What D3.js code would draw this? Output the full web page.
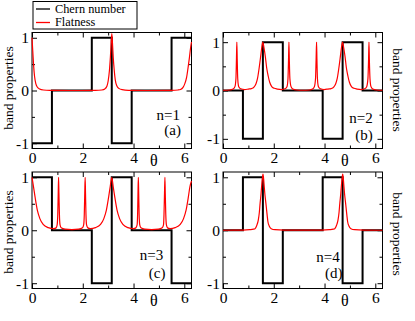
<!DOCTYPE html>
<html>
<head>
<meta charset="utf-8">
<script src="https://cdn.jsdelivr.net/npm/d3@7"></script>
<style>
body { margin: 0; background: #fff; }
svg text { font-family: "Liberation Serif", "Times New Roman", serif; }
</style>
</head>
<body>
<div id="chart-area"></div>
<script>
// theta break points (multiples of pi/4) where the Chern number jumps
var thetaEdges = [0, 0.785, 1.571, 2.356, 3.142, 3.927, 4.712, 5.498, 6.283];

// Chern number on each of the 8 intervals
var chernA = [-1, 0, 0, 1, -1, 0, 0, 1];
var chernB = [0, -1, 1, 0, 0, -1, 1, 0];
var chernC = [1, 0, 0, -1, 1, 0, 0, -1];
var chernD = [0, 1, -1, 0, 0, 1, -1, 0];

// flatness curves, [theta, value]
var flatA = [[0,1.0],[0.03,0.75],[0.06,0.5],[0.1,0.27],[0.15,0.13],[0.2,0.07],[0.3,0.03],[0.45,0.01],[0.7,0.002],[1.5,0],
  [2.5,0.002],[2.75,0.01],[2.87,0.03],[2.95,0.08],[3.0,0.18],[3.05,0.38],[3.09,0.65],[3.12,0.9],[3.145,1.08],[3.17,0.9],
  [3.2,0.63],[3.24,0.38],[3.28,0.2],[3.34,0.09],[3.42,0.04],[3.55,0.015],[3.8,0.003],[4.5,0],[5.5,0.003],[5.75,0.01],
  [5.85,0.02],[5.95,0.06],[6.02,0.13],[6.09,0.25],[6.15,0.44],[6.2,0.62],[6.25,0.82],[6.283,0.92]];

var flatB = [[0,0.005],[0.25,0.01],[0.4,0.03],[0.47,0.08],[0.51,0.25],[0.53,0.65],[0.545,1.0],[0.56,0.65],[0.58,0.25],[0.62,0.08],
  [0.7,0.035],[0.85,0.02],[1.0,0.03],[1.12,0.04],[1.22,0.07],[1.3,0.14],[1.36,0.25],[1.42,0.45],[1.48,0.69],[1.53,0.9],
  [1.571,1.0],[1.61,0.9],[1.67,0.69],[1.72,0.47],[1.78,0.3],[1.84,0.17],[1.92,0.08],[2.02,0.045],[2.14,0.03],[2.3,0.02],
  [2.44,0.035],[2.52,0.08],[2.56,0.25],[2.582,0.65],[2.597,1.0],[2.612,0.65],[2.635,0.25],[2.68,0.08],[2.75,0.03],[2.9,0.01],
  [3.14,0.005],[3.4,0.01],[3.53,0.03],[3.6,0.08],[3.645,0.25],[3.668,0.65],[3.686,1.0],[3.7,0.65],[3.72,0.25],[3.76,0.08],
  [3.84,0.035],[3.98,0.02],[4.14,0.03],[4.26,0.04],[4.36,0.07],[4.44,0.14],[4.5,0.25],[4.56,0.45],[4.62,0.69],[4.67,0.9],
  [4.712,1.0],[4.75,0.9],[4.81,0.69],[4.86,0.47],[4.92,0.3],[4.98,0.17],[5.06,0.08],[5.16,0.045],[5.28,0.03],[5.44,0.02],
  [5.58,0.035],[5.66,0.08],[5.71,0.25],[5.735,0.65],[5.75,1.0],[5.765,0.65],[5.79,0.25],[5.83,0.08],[5.9,0.03],[6.05,0.01],
  [6.283,0.005]];

var flatC = [[0,1.0],[0.06,0.82],[0.12,0.63],[0.21,0.38],[0.31,0.22],[0.44,0.11],[0.64,0.05],[0.85,0.03],[0.95,0.045],[0.99,0.1],
  [1.015,0.3],[1.033,0.7],[1.047,1.0],[1.061,0.7],[1.08,0.3],[1.105,0.1],[1.15,0.045],[1.3,0.02],[1.571,0.012],[1.84,0.02],
  [1.99,0.045],[2.035,0.1],[2.06,0.3],[2.078,0.7],[2.094,1.0],[2.108,0.7],[2.126,0.3],[2.15,0.1],[2.2,0.045],[2.3,0.03],
  [2.5,0.05],[2.7,0.11],[2.83,0.22],[2.93,0.38],[3.02,0.63],[3.08,0.82],[3.142,1.0],[3.2,0.82],[3.26,0.63],[3.35,0.38],
  [3.45,0.22],[3.58,0.11],[3.78,0.05],[3.99,0.03],[4.09,0.045],[4.14,0.1],[4.16,0.3],[4.175,0.7],[4.189,1.0],[4.203,0.7],
  [4.22,0.3],[4.245,0.1],[4.29,0.045],[4.44,0.02],[4.712,0.012],[4.98,0.02],[5.13,0.045],[5.18,0.1],[5.2,0.3],[5.22,0.7],
  [5.236,1.0],[5.25,0.7],[5.27,0.3],[5.295,0.1],[5.34,0.045],[5.44,0.03],[5.64,0.05],[5.84,0.11],[5.97,0.22],[6.07,0.38],
  [6.16,0.63],[6.22,0.82],[6.283,0.93]];

var flatD = [[0,0],[0.8,0.002],[1.05,0.01],[1.2,0.02],[1.26,0.03],[1.33,0.09],[1.39,0.19],[1.43,0.33],[1.46,0.5],[1.5,0.7],
  [1.52,0.82],[1.55,0.97],[1.575,1.06],[1.6,0.97],[1.625,0.82],[1.65,0.68],[1.68,0.55],[1.71,0.42],[1.74,0.28],[1.77,0.16],
  [1.82,0.08],[1.9,0.03],[2.05,0.01],[2.4,0.002],[3.9,0.002],[4.19,0.01],[4.34,0.02],[4.4,0.03],[4.47,0.09],[4.53,0.19],
  [4.57,0.33],[4.6,0.5],[4.64,0.7],[4.66,0.82],[4.69,0.97],[4.715,1.06],[4.74,0.97],[4.765,0.82],[4.79,0.68],[4.82,0.55],
  [4.85,0.42],[4.88,0.28],[4.91,0.16],[4.96,0.08],[5.04,0.03],[5.19,0.01],[5.54,0.002],[6.283,0]];

// tick values
var xTicks = [0, 2, 4, 6];
var xMinor = [1, 3, 5];
var yTicks = [-1, 0, 1];
var yMinor = [-0.5, 0.5];

var seriesNames = ["Chern number", "Flatness"];

// panel layout (pixels)
var panels = [
  {chern: chernA, flat: flatA, n: "n=1", tag: "(a)", left: 32, right: 191.5, top: 32.5, bottom: 148.5, ymax: 1.1,
   nPos: [5.83, -0.55], tagPos: [5.87, -0.85], labelSide: "left", labelY: 88},
  {chern: chernB, flat: flatB, n: "n=2", tag: "(b)", left: 223, right: 382.5, top: 32.5, bottom: 148.5, ymax: 1.2,
   nPos: [5.9, -0.67], tagPos: [5.9, -1.02], labelSide: "right", labelY: 90},
  {chern: chernC, flat: flatC, n: "n=3", tag: "(c)", left: 32, right: 191.5, top: 172, bottom: 288.5, ymax: 1.1,
   nPos: [5.17, -0.56], tagPos: [5.26, -0.9], labelSide: "left", labelY: 232},
  {chern: chernD, flat: flatD, n: "n=4", tag: "(d)", left: 223, right: 382.5, top: 172, bottom: 288.5, ymax: 1.1,
   nPos: [4.6, -0.6], tagPos: [4.71, -0.9], labelSide: "right", labelY: 234}
];

var svg = d3.select("#chart-area")
  .append("svg")
    .attr("width", 415)
    .attr("height", 321);

var fmt = function(d) { return String(d); };

panels.forEach(function(p) {
  var x = d3.scaleLinear().domain([0, 2 * Math.PI]).range([p.left, p.right]);
  var y = d3.scaleLinear().domain([-p.ymax, p.ymax]).range([p.bottom, p.top]);
  var g = svg.append("g");

  // frame
  g.append("rect")
    .attr("x", p.left).attr("y", p.top)
    .attr("width", p.right - p.left).attr("height", p.bottom - p.top)
    .attr("fill", "none").attr("stroke", "#000").attr("stroke-width", 1);

  // axes, ticks inward on all sides
  function addAxis(axis, tx, ty, labels) {
    var a = g.append("g")
      .attr("transform", "translate(" + tx + "," + ty + ")")
      .call(axis);
    a.select(".domain").remove();
    a.selectAll("line").attr("stroke", "#000");
    a.selectAll("text")
      .attr("font-family", "Liberation Serif, serif")
      .attr("font-size", "15.5px")
      .attr("fill", "#000");
    if (!labels) a.selectAll("text").remove();
    return a;
  }
  addAxis(d3.axisBottom(x).tickValues(xTicks).tickSizeInner(-5).tickSizeOuter(0).tickPadding(3.5).tickFormat(fmt), 0, p.bottom, true);
  addAxis(d3.axisBottom(x).tickValues(xMinor).tickSizeInner(-3).tickSizeOuter(0), 0, p.bottom, false);
  addAxis(d3.axisTop(x).tickValues(xTicks).tickSizeInner(-5).tickSizeOuter(0), 0, p.top, false);
  addAxis(d3.axisTop(x).tickValues(xMinor).tickSizeInner(-3).tickSizeOuter(0), 0, p.top, false);
  addAxis(d3.axisLeft(y).tickValues(yTicks).tickSizeInner(-5).tickSizeOuter(0).tickPadding(3).tickFormat(fmt), p.left, 0, true);
  addAxis(d3.axisLeft(y).tickValues(yMinor).tickSizeInner(-3).tickSizeOuter(0), p.left, 0, false);
  addAxis(d3.axisRight(y).tickValues(yTicks).tickSizeInner(-5).tickSizeOuter(0), p.right, 0, false);
  addAxis(d3.axisRight(y).tickValues(yMinor).tickSizeInner(-3).tickSizeOuter(0), p.right, 0, false);

  // Chern number steps
  var steps = thetaEdges.map(function(t, i) {
    return [t, p.chern[Math.min(i, p.chern.length - 1)]];
  });
  g.append("path")
    .datum(steps)
    .attr("fill", "none")
    .attr("stroke", "#000")
    .attr("stroke-width", 2)
    .attr("d", d3.line()
      .x(function(d) { return x(d[0]); })
      .y(function(d) { return y(d[1]); })
      .curve(d3.curveStepAfter));

  // flatness
  g.append("path")
    .datum(p.flat)
    .attr("fill", "none")
    .attr("stroke", "#ff0000")
    .attr("stroke-width", 1.2)
    .attr("d", d3.line()
      .x(function(d) { return x(d[0]); })
      .y(function(d) { return y(d[1]); })
      .curve(d3.curveMonotoneX));

  // x label
  g.append("text")
    .attr("x", x(4.8))
    .attr("y", p.bottom + 17)
    .attr("text-anchor", "middle")
    .attr("font-size", "16px")
    .text("\u03b8");

  // y label
  if (p.labelSide === "left") {
    g.append("text")
      .attr("transform", "translate(13," + p.labelY + ") rotate(-90)")
      .attr("text-anchor", "middle")
      .attr("font-size", "13.5px")
      .text("band properties");
  } else {
    g.append("text")
      .attr("transform", "translate(393," + p.labelY + ") rotate(90)")
      .attr("text-anchor", "middle")
      .attr("font-size", "13.5px")
      .text("band properties");
  }

  // annotations
  g.append("text")
    .attr("x", x(p.nPos[0])).attr("y", y(p.nPos[1]))
    .attr("text-anchor", "end")
    .attr("font-size", "15px")
    .text(p.n);
  g.append("text")
    .attr("x", x(p.tagPos[0])).attr("y", y(p.tagPos[1]))
    .attr("text-anchor", "end")
    .attr("font-size", "15px")
    .text(p.tag);
});

// legend
var legend = svg.append("g");
legend.append("rect")
  .attr("x", 33).attr("y", 1.5).attr("width", 104).attr("height", 27.5)
  .attr("fill", "#fff").attr("stroke", "#000").attr("stroke-width", 1);
var legendColors = ["#000", "#ff0000"];
seriesNames.forEach(function(name, i) {
  legend.append("line")
    .attr("x1", 36).attr("x2", 50)
    .attr("y1", 9 + i * 13.5).attr("y2", 9 + i * 13.5)
    .attr("stroke", legendColors[i]).attr("stroke-width", 1.3);
  legend.append("text")
    .attr("x", 55).attr("y", 12.5 + i * 13.5)
    .attr("font-size", "12.3px")
    .text(name);
});
</script>
</body>
</html>
